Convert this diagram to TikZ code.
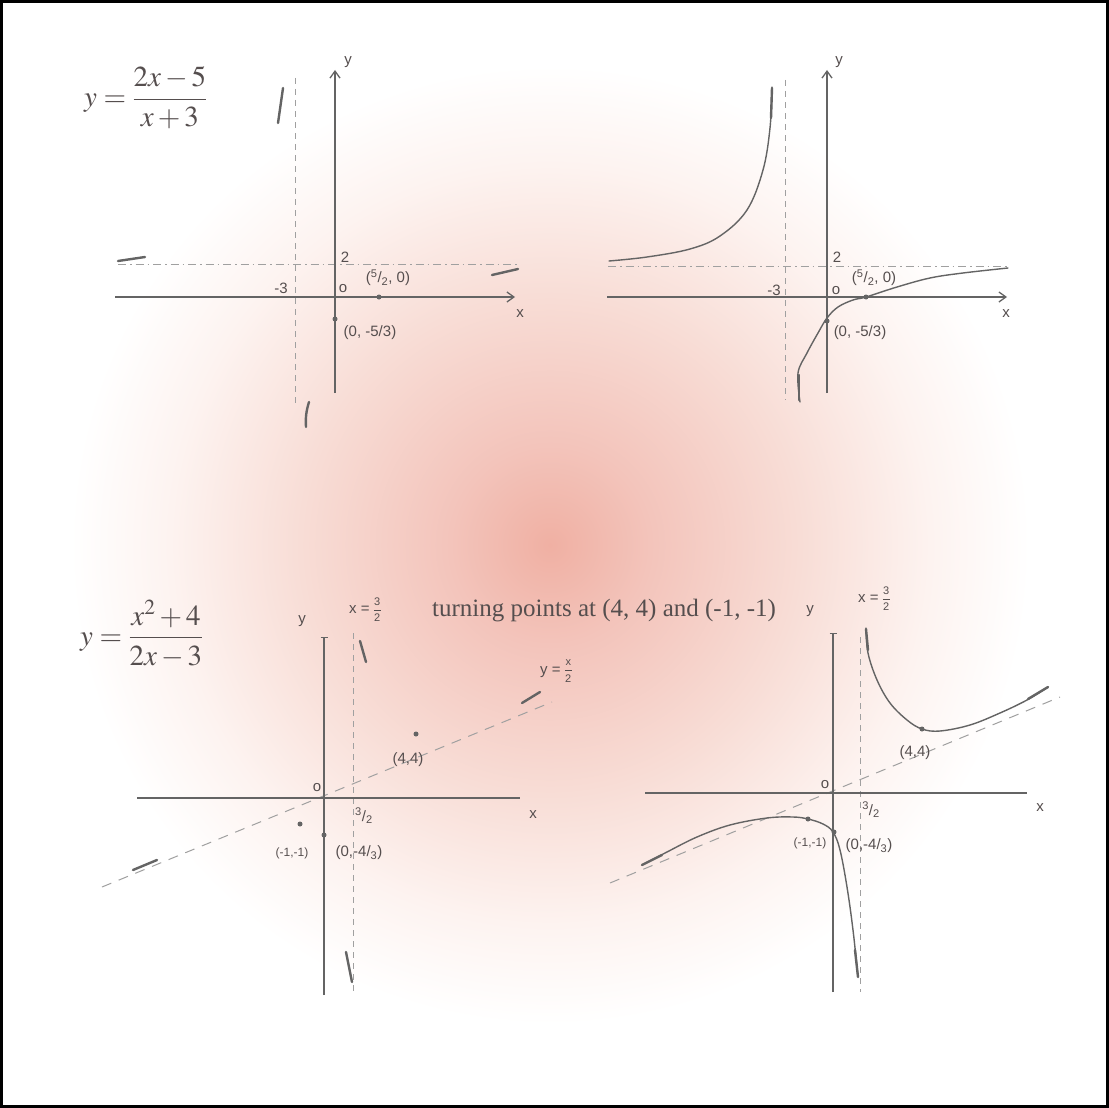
\documentclass[tikz,border=0pt]{standalone}
\usepackage{amsmath}
\usepackage{mathptmx}
\usepackage[no-math]{fontspec}
\setmainfont{Liberation Serif}
\newfontfamily\handfont{Liberation Sans}
\usepackage{tikz}
\usetikzlibrary{arrows.meta}

\definecolor{inkgray}{RGB}{100,100,100}
\definecolor{dashgray}{RGB}{160,160,160}
\definecolor{texgray}{RGB}{85,78,78}
\definecolor{glowA}{RGB}{240,176,163}
\definecolor{glowB}{RGB}{243,196,187}
\definecolor{glowC}{RGB}{248,221,214}
\definecolor{glowD}{RGB}{253,243,240}

\pgfdeclareradialshading{pinkglow}{\pgfpoint{0bp}{0bp}}{%
  color(0bp)=(glowA); color(5bp)=(glowB); color(12.5bp)=(glowC);
  color(19bp)=(glowD); color(24bp)=(white); color(50bp)=(white)}

\begin{document}
\begin{tikzpicture}[
    x=1pt, y=-1pt,
    axis/.style={draw=inkgray, line width=1.3pt},
    arrowaxis/.style={axis, -{Straight Barb[length=7pt, width=10pt]}},
    baraxis/.style={axis, -{Bar[width=7pt]}},
    asym/.style={draw=dashgray, line width=1pt, dash pattern=on 6pt off 5pt},
    asymdot/.style={draw=dashgray, line width=1pt, dash pattern=on 8pt off 4pt on 1.5pt off 4pt},
    oblique/.style={draw=dashgray, line width=1pt, dash pattern=on 10pt off 8pt},
    curve/.style={draw=inkgray, line width=1.4pt, line cap=round},
    endmark/.style={draw=inkgray, line width=2.4pt, line cap=round},
    dot/.style={circle, fill=inkgray, inner sep=0pt, minimum size=5pt},
    hand/.style={font=\handfont\fontsize{15}{15}\selectfont, text=texgray, inner sep=1pt},
    small/.style={hand, font=\handfont\fontsize{12}{12}\selectfont},
    eqn/.style={font=\fontsize{29}{34}\selectfont, text=texgray, anchor=west, inner sep=0pt},
    note/.style={font=\fontsize{25}{29}\selectfont, text=texgray, anchor=base west, inner sep=0pt}
]

% 1. Background glow and frame
\useasboundingbox (0,0) rectangle (1109,1108);
\shade[shading=pinkglow] (50,45) rectangle (1050,1045);
\draw[line width=3pt] (1.5,1.5) rectangle (1107.5,1106.5);

% 2. Top left: asymptotes and intercepts of y=(2x-5)/(x+3)
\node[eqn] (eqA) at (84,98) {$y=\dfrac{2x-5}{x+3}$};
\draw[asym] (295,78) -- (295,403);
\draw[asymdot] (118,264) -- (517,264);
\draw[arrowaxis] (115,297) -- (515,297);
\draw[arrowaxis] (335,393) -- (335,70);
\node[dot] (tlXcut) at (379,297) {};
\node[dot] (tlYcut) at (335,319) {};
\node[hand] (tlY) at (348,62) {y};
\node[hand] (tlX) at (520,314) {x};
\node[hand] (tlTwo) at (345,257) {2};
\node[hand] (tlMinus) at (281,288) {-3};
\node[hand] (tlO) at (343,289) {o};
\node[hand] (tlXlab) at (388,278) {(\textsuperscript{5}/\textsubscript{2}, 0)};
\node[hand] (tlYlab) at (370,333) {(0, -5/3)};
% end behaviour marks
\draw[endmark] (278,123) -- (283,88);
\draw[endmark] (309,402) to[bend right=10] (306,427);
\draw[endmark] (118,261) -- (145,257);
\draw[endmark] (492,275) -- (518,269);

% 3. Top right: the sketched curve
\draw[asym] (785,80) -- (785,400);
\draw[asymdot] (608,266) -- (1008,266);
\draw[arrowaxis] (607,297) -- (1007,297);
\draw[arrowaxis] (827,393) -- (827,70);
\draw[curve] plot[smooth, tension=0.6] coordinates {(609,261) (647,257) (690,249) (720,236) (747,210) (763,170) (770,128) (772,87)};
\draw[curve] plot[smooth, tension=0.6] coordinates {(800,402) (798,373) (807,353) (818,333) (827,318) (838,307) (853,300) (866,297) (897,287) (930,278) (963,273) (1008,268)};
\draw[endmark] (772,88) -- (771,118);
\draw[endmark] (799,400) -- (799,375);
\node[dot] (trXcut) at (866,297) {};
\node[dot] (trYcut) at (827,321) {};
\node[hand] (trY) at (839,62) {y};
\node[hand] (trX) at (1006,314) {x};
\node[hand] (trTwo) at (837,257) {2};
\node[hand] (trMinus) at (774,290) {-3};
\node[hand] (trO) at (836,291) {o};
\node[hand] (trXlab) at (874,278) {(\textsuperscript{5}/\textsubscript{2}, 0)};
\node[hand] (trYlab) at (860,333) {(0, -5/3)};

% 4. Bottom left: asymptotes and turning points of y=(x^2+4)/(2x-3)
\node[eqn] (eqB) at (80,634) {$y=\dfrac{x^2+4}{2x-3}$};
\node[note] (turns) at (432,616) {turning points at (4, 4) and (-1, -1)};
\draw[asym] (353,633) -- (353,993);
\draw[oblique] (102,887) -- (552,702);
\draw[axis] (137,798) -- (520,798);
\draw[baraxis] (324,995) -- (324,637);
\node[dot] (blMax) at (300,824) {};
\node[dot] (blMin) at (416,734) {};
\node[dot] (blYcut) at (324,835) {};
\node[hand] (blY) at (302,621) {y};
\node[hand] (blX) at (533,815) {x};
\node[hand] (blAsym) at (365,611) {x = {\fontsize{11}{11}\selectfont\renewcommand{\arraystretch}{0.6}\begin{tabular}{@{}c@{}}3\\\rule[1.5pt]{7pt}{0.7pt}\\2\end{tabular}}};
\node[hand] (blSlant) at (556,672) {y = {\fontsize{11}{11}\selectfont\renewcommand{\arraystretch}{0.6}\begin{tabular}{@{}c@{}}x\\\rule[1.5pt]{7pt}{0.7pt}\\2\end{tabular}}};
\node[hand] (blO) at (317,788) {o};
\node[hand] (blHalf) at (364,816) {\textsuperscript{3}/\textsubscript{2}};
\node[hand] (blMinlab) at (408,760) {(4,4)};
\node[small] (blMaxlab) at (292,853) {(-1,-1)};
\node[hand] (blYlab) at (359,853) {(0,-4/\textsubscript{3})};
% end behaviour marks
\draw[endmark] (360,641) -- (366,662);
\draw[endmark] (346,952) -- (352,982);
\draw[endmark] (133,870) -- (157,860);
\draw[endmark] (522,703) -- (540,692);

% 5. Bottom right: the sketched curve
\draw[asym] (860,637) -- (860,992);
\draw[oblique] (610,883) -- (1060,697);
\draw[axis] (645,793) -- (1027,793);
\draw[baraxis] (833,992) -- (833,633);
\draw[curve] plot[smooth, tension=0.6] coordinates {(866,628) (868,653) (877,680) (890,703) (907,720) (922,729) (940,731) (970,725) (1000,713) (1027,700) (1048,687)};
\draw[curve] plot[smooth, tension=0.6] coordinates {(642,865) (667,852) (697,837) (730,825) (767,818) (793,817) (808,819) (823,824) (833,832) (840,850) (847,887) (853,930) (858,977)};
\draw[endmark] (866,629) -- (868,650);
\draw[endmark] (1028,699) -- (1048,687);
\draw[endmark] (642,865) -- (662,855);
\draw[endmark] (855,950) -- (858,977);
\node[dot] (brMin) at (922,729) {};
\node[dot] (brMax) at (808,819) {};
\node[dot] (brYcut) at (834,832) {};
\node[hand] (brY) at (810,611) {y};
\node[hand] (brX) at (1040,808) {x};
\node[hand] (brAsym) at (874,600) {x = {\fontsize{11}{11}\selectfont\renewcommand{\arraystretch}{0.6}\begin{tabular}{@{}c@{}}3\\\rule[1.5pt]{7pt}{0.7pt}\\2\end{tabular}}};
\node[hand] (brO) at (825,785) {o};
\node[hand] (brHalf) at (871,810) {\textsuperscript{3}/\textsubscript{2}};
\node[hand] (brMinlab) at (915,753) {(4,4)};
\node[small] (brMaxlab) at (810,843) {(-1,-1)};
\node[hand] (brYlab) at (869,846) {(0,-4/\textsubscript{3})};

\end{tikzpicture}
\end{document}
